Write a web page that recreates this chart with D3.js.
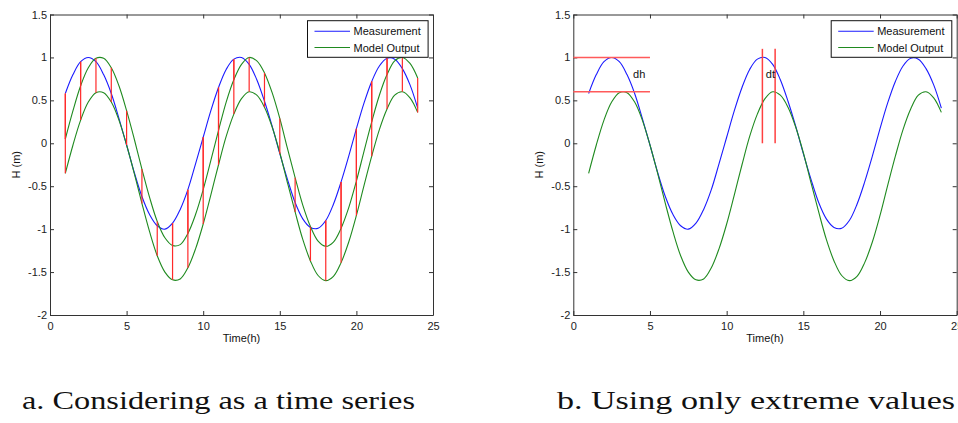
<!DOCTYPE html>
<html>
<head>
<meta charset="utf-8">
<script src="https://cdn.jsdelivr.net/npm/d3@7"></script>
<style>
    body { margin: 0; background: #ffffff; }
    text { font-family: "Liberation Sans", Arial, sans-serif; }
</style>
</head>
<body>
<div id="chart"></div>
<script>
// Sample times (h) and series
const hours = [1, 1.5, 2, 2.5, 3, 3.5, 4, 4.5, 5, 5.5, 6, 6.5, 7, 7.5, 8, 8.5, 9, 9.5, 10, 10.5,
    11, 11.5, 12, 12.5, 13, 13.5, 14, 14.5, 15, 15.5, 16, 16.5, 17, 17.5, 18, 18.5, 19, 19.5, 20,
    20.5, 21, 21.5, 22, 22.5, 23, 23.5, 24];
const measurement = [0.58, 0.80, 0.95, 1.00, 0.95, 0.80, 0.58, 0.29, -0.02, -0.34, -0.62, -0.83,
    -0.96, -1.00, -0.93, -0.77, -0.54, -0.24, 0.07, 0.38, 0.65, 0.86, 0.98, 1.00, 0.92, 0.74, 0.49,
    0.20, -0.12, -0.42, -0.69, -0.88, -0.98, -0.99, -0.90, -0.71, -0.45, -0.15, 0.17, 0.47, 0.72,
    0.90, 0.99, 0.98, 0.87, 0.68, 0.41];
// model output, shifted in time only (panel a)
const modelHigh = [0.05, 0.38, 0.67, 0.88, 0.99, 0.99, 0.88, 0.67, 0.38, 0.05, -0.30, -0.63,
    -0.91, -1.10, -1.19, -1.18, -1.05, -0.83, -0.54, -0.20, 0.15, 0.48, 0.74, 0.92, 1.00, 0.96,
    0.82, 0.59, 0.29, -0.06, -0.40, -0.72, -0.97, -1.14, -1.20, -1.15, -0.99, -0.75, -0.44, -0.09,
    0.25, 0.56, 0.80, 0.96, 1.00, 0.93, 0.76];
// model output, shifted in time and height (panels a and b)
const modelLow = [-0.35, -0.02, 0.27, 0.48, 0.59, 0.59, 0.48, 0.27, -0.02, -0.35, -0.70, -1.03,
    -1.31, -1.50, -1.59, -1.58, -1.45, -1.23, -0.94, -0.60, -0.25, 0.08, 0.34, 0.52, 0.60, 0.56,
    0.42, 0.19, -0.11, -0.46, -0.80, -1.12, -1.37, -1.54, -1.60, -1.55, -1.39, -1.15, -0.84, -0.49,
    -0.15, 0.16, 0.40, 0.56, 0.60, 0.53, 0.36];

const xTicks = [0, 5, 10, 15, 20, 25];
const yTicks = [-2, -1.5, -1, -0.5, 0, 0.5, 1, 1.5];
const legendLabels = ["Measurement", "Model Output"];
const captions = ["a. Considering as a time series", "b. Using only extreme values"];

// extreme value annotations (panel b)
const dhLevels = [1.0, 0.6];
const dhRange = [0, 5];
const dtTimes = [12.33, 13.16];
const dtRange = [0, 1.1];

const width = 958, height = 423;
const blue = "#1a1aff", green = "#1f8a1f", red = "#ff2a2a";

const svg = d3.select("#chart").append("svg")
    .attr("width", width)
    .attr("height", height)
    .style("background", "#ffffff");

function drawPanel(left, right, opts) {
    const top = 14.5, bottom = 315;
    const x = d3.scaleLinear().domain([0, 25]).range([left, right]);
    const y = d3.scaleLinear().domain([-2, 1.5]).range([bottom, top]);
    const g = svg.append("g");

    const line = (vals) => d3.line()
        .x((d, i) => x(hours[i]))
        .y(d => y(d))
        .curve(d3.curveCatmullRom.alpha(0.5))(vals);

    // box with inward ticks on all sides (matlab style)
    const fmt = d => String(d);
    const axes = [
        d3.axisBottom(x).tickValues(xTicks).tickFormat(fmt).tickSizeInner(-4).tickSizeOuter(0),
        d3.axisTop(x).tickValues(xTicks).tickFormat("").tickSizeInner(-4).tickSizeOuter(0),
        d3.axisLeft(y).tickValues(yTicks).tickFormat(fmt).tickSizeInner(-4).tickSizeOuter(0),
        d3.axisRight(y).tickValues(yTicks).tickFormat("").tickSizeInner(-4).tickSizeOuter(0)
    ];
    const pos = [`translate(0,${bottom})`, `translate(0,${top})`, `translate(${left},0)`, `translate(${right},0)`];
    axes.forEach((ax, k) => {
        const a = g.append("g").attr("transform", pos[k]).call(ax);
        a.selectAll("path, line").attr("stroke", "#333");
        a.selectAll("text").attr("fill", "#222").attr("font-size", 11)
            .style("font-family", "'Liberation Sans', Arial, sans-serif");
        if (k === 0) a.selectAll("text").attr("dy", "1.05em");
        if (k === 2) a.selectAll("text").attr("x", -3);
    });

    // curves
    g.append("path").attr("d", line(measurement)).attr("fill", "none")
        .attr("stroke", blue).attr("stroke-width", 1.1);
    opts.models.forEach(vals => {
        g.append("path").attr("d", line(vals)).attr("fill", "none")
            .attr("stroke", green).attr("stroke-width", 1.1);
    });

    if (opts.errors) {
        // vertical error bars at each whole hour
        hours.forEach((t, i) => {
            if (t % 1 !== 0) return;
            opts.models.forEach(vals => {
                g.append("line")
                    .attr("x1", x(t)).attr("x2", x(t))
                    .attr("y1", y(measurement[i])).attr("y2", y(vals[i]))
                    .attr("stroke", red).attr("stroke-width", 1.2);
            });
        });
    }

    if (opts.extremes) {
        dhLevels.forEach(v => {
            g.append("line")
                .attr("x1", x(dhRange[0])).attr("x2", x(dhRange[1]))
                .attr("y1", y(v)).attr("y2", y(v))
                .attr("stroke", "#ff5a5a").attr("stroke-width", 1.5);
        });
        dtTimes.forEach(t => {
            g.append("line")
                .attr("x1", x(t)).attr("x2", x(t))
                .attr("y1", y(dtRange[0])).attr("y2", y(dtRange[1]))
                .attr("stroke", "#ff4040").attr("stroke-width", 1.5);
        });
        g.append("text").attr("x", x(3.9)).attr("y", y(0.81) + 4)
            .attr("font-size", 11).attr("fill", "#111").text("dh");
        g.append("text").attr("x", x(12.55)).attr("y", y(0.81) + 4)
            .attr("font-size", 11).attr("fill", "#111").text("dt");
    }

    // axis titles
    g.append("text").attr("x", (left + right) / 2).attr("y", 342)
        .attr("text-anchor", "middle").attr("font-size", 11).attr("fill", "#111").text("Time(h)");
    g.append("text").attr("transform", `translate(${left - 30},${(top + bottom) / 2}) rotate(-90)`)
        .attr("text-anchor", "middle").attr("font-size", 11).attr("fill", "#111").text("H (m)");

    // legend box, top right
    const lx = right - 125.5, ly = 20.7;
    const lg = g.append("g");
    lg.append("rect").attr("x", lx).attr("y", ly).attr("width", 120.6).attr("height", 36.6)
        .attr("fill", "#ffffff").attr("stroke", "#111").attr("stroke-width", 1);
    [blue, green].forEach((c, k) => {
        const cy = ly + 10.5 + k * 16.3;
        lg.append("line").attr("x1", lx + 7).attr("x2", lx + 42.5)
            .attr("y1", cy).attr("y2", cy).attr("stroke", c).attr("stroke-width", 1.1);
        lg.append("text").attr("x", lx + 46).attr("y", cy + 4)
            .attr("font-size", 11).attr("fill", "#111").text(legendLabels[k]);
    });
}

drawPanel(50, 433, { models: [modelHigh, modelLow], errors: true });
drawPanel(573.3, 956.7, { models: [modelLow], extremes: true });

// captions under the panels (serif, like the LaTeX subcaptions)
[[218.5, 393], [756, 398]].forEach(([cx, w], k) => {
    svg.append("text").attr("x", cx).attr("y", 409)
        .attr("text-anchor", "middle")
        .style("font-family", "'Liberation Serif', 'DejaVu Serif', serif")
        .attr("font-size", 26).attr("fill", "#111")
        .attr("textLength", w).attr("lengthAdjust", "spacingAndGlyphs")
        .text(captions[k]);
});
</script>
</body>
</html>
